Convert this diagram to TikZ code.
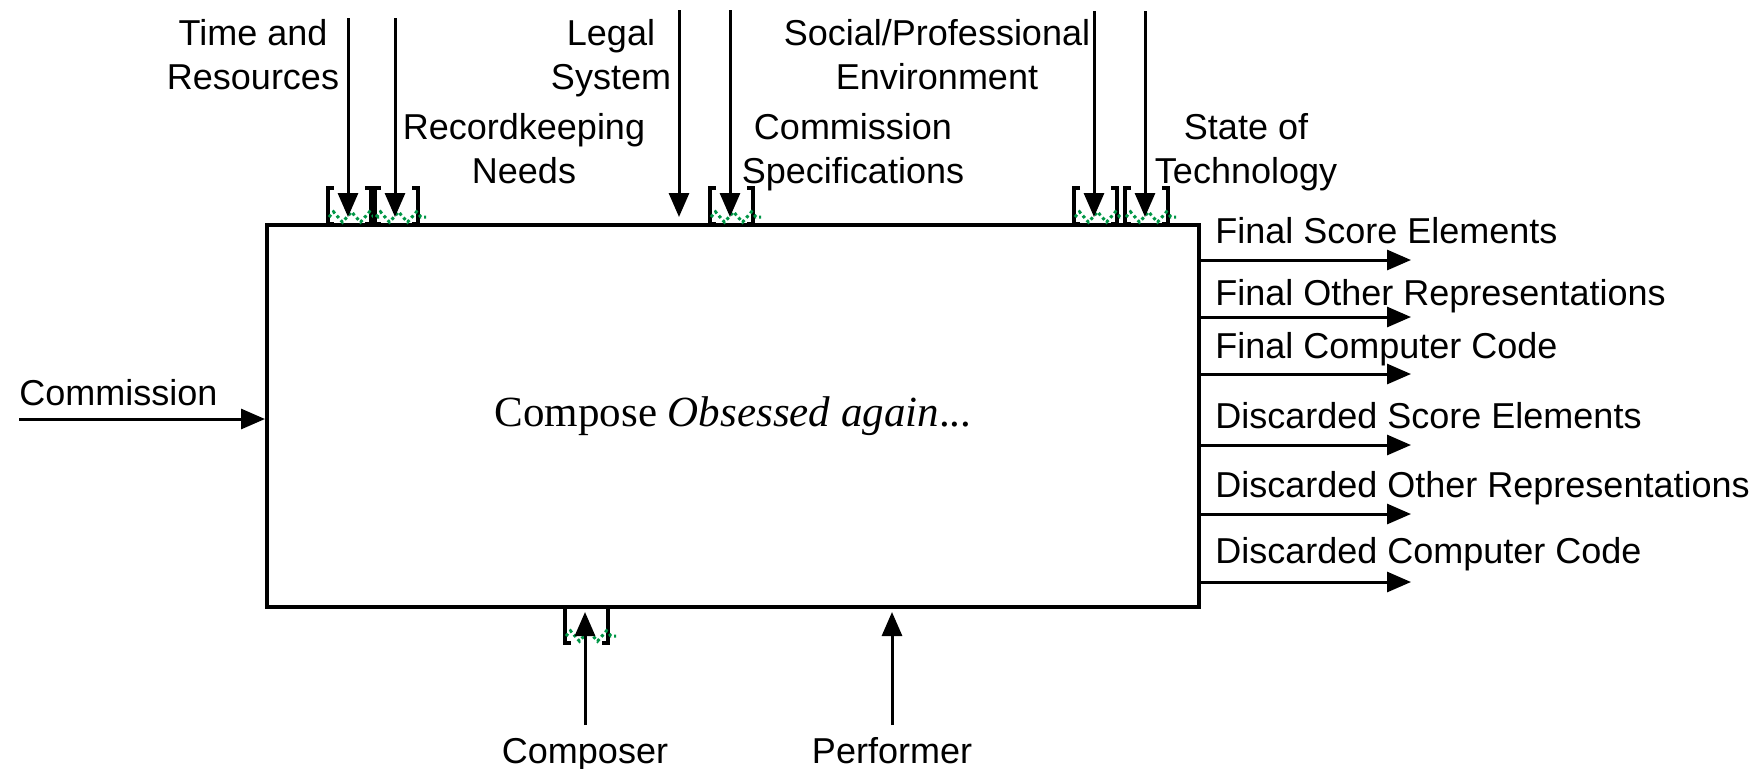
\documentclass[tikz,border=0pt]{standalone}
\usepackage{fontspec}
\setmainfont{Liberation Serif}
\setsansfont{Liberation Sans}
\usepackage{tikz}
\usetikzlibrary{arrows.meta,decorations.pathmorphing}

\definecolor{tunnelgreen}{RGB}{0,150,70}

\tikzset{
  flow/.style={line width=1.5pt,-{Triangle[length=12pt,width=10pt]}},
  lbl/.style={font=\sffamily\fontsize{18}{22}\selectfont,inner sep=0pt,align=center},
  tunnel/.pic={
    \draw[line width=2pt] (-14,0) -- (-20,0) -- (-20,36) -- (-14,36);
    \draw[line width=2pt] (17,0) -- (23,0) -- (23,36) -- (17,36);
    \draw[tunnelgreen,line width=1.5pt,dash pattern=on 1.5pt off 1.5pt,
          decorate,decoration={zigzag,segment length=9pt,amplitude=2.6pt}] (-19,29) -- (31,29);
  }
}

\begin{document}
\begin{tikzpicture}[x=0.5pt,y=-0.5pt]
            \useasboundingbox (0,0) rectangle (1761,768);

            \node[draw,line width=2pt,minimum width=466pt,minimum height=191pt,inner sep=0pt,
                  font=\fontsize{21.5}{26}\selectfont] (compose) at (733,416) {Compose \textit{Obsessed again}...};

            % controls and their tunnels
            \coordinate (timesrc) at (348,18);
            \coordinate (recsrc) at (395,18);
            \coordinate (legalsrc) at (679,10);
            \coordinate (specsrc) at (730,10);
            \coordinate (socialsrc) at (1094,11);
            \coordinate (techsrc) at (1145,11);

            \pic at (348,188) {tunnel};
            \pic at (395,188) {tunnel};
            \pic at (730,188) {tunnel};
            \pic at (1094,188) {tunnel};
            \pic at (1145,188) {tunnel};
            \pic at (585,607) {tunnel};

            \draw[flow,shorten >=3pt] (timesrc) -- (timesrc |- compose.north);
            \draw[flow,shorten >=3pt] (recsrc) -- (recsrc |- compose.north);
            \draw[flow,shorten >=3pt] (legalsrc) -- (legalsrc |- compose.north);
            \draw[flow,shorten >=3pt] (specsrc) -- (specsrc |- compose.north);
            \draw[flow,shorten >=3pt] (socialsrc) -- (socialsrc |- compose.north);
            \draw[flow,shorten >=3pt] (techsrc) -- (techsrc |- compose.north);

            \node[lbl,anchor=base] (timelbl) at (253,89) {Time and\\Resources};
            \node[lbl,anchor=base] (reclbl) at (524,183) {Recordkeeping\\Needs};
            \node[lbl,anchor=base] (legallbl) at (611,89) {Legal\\System};
            \node[lbl,anchor=base] (speclbl) at (853,183) {Commission\\Specifications};
            \node[lbl,anchor=base] (sociallbl) at (937,89) {Social/Professional\\Environment};
            \node[lbl,anchor=base] (techlbl) at (1246,183) {State of\\Technology};

            % input
            \coordinate (commsrc) at (19,419);
            \draw[flow] (commsrc) -- (commsrc -| compose.west);
            \node[lbl,anchor=base west] (commlbl) at (19,405) {Commission};

            % mechanisms
            \coordinate (composersrc) at (585,725);
            \coordinate (performersrc) at (892,725);
            \draw[flow,shorten >=1.5pt] (composersrc) -- (composersrc |- compose.south);
            \draw[flow,shorten >=1.5pt] (performersrc) -- (performersrc |- compose.south);
            \node[lbl,anchor=base] (composerlbl) at (585,763) {Composer};
            \node[lbl,anchor=base] (performerlbl) at (892,763) {Performer};

            % outputs
            \coordinate (fsetip) at (1411,260);
            \coordinate (forttip) at (1411,317);
            \coordinate (fcctip) at (1411,374);
            \coordinate (dsetip) at (1411,445);
            \coordinate (dortip) at (1411,514);
            \coordinate (dcctip) at (1411,582);

            \draw[flow] (fsetip -| compose.east) -- (fsetip);
            \draw[flow] (forttip -| compose.east) -- (forttip);
            \draw[flow] (fcctip -| compose.east) -- (fcctip);
            \draw[flow] (dsetip -| compose.east) -- (dsetip);
            \draw[flow] (dortip -| compose.east) -- (dortip);
            \draw[flow] (dcctip -| compose.east) -- (dcctip);

            \node[lbl,anchor=base west] (fselbl) at (1215,243) {Final Score Elements};
            \node[lbl,anchor=base west] (fortlbl) at (1215,305) {Final Other Representations};
            \node[lbl,anchor=base west] (fcclbl) at (1215,358) {Final Computer Code};
            \node[lbl,anchor=base west] (dselbl) at (1215,428) {Discarded Score Elements};
            \node[lbl,anchor=base west] (dorlbl) at (1215,497) {Discarded Other Representations};
            \node[lbl,anchor=base west] (dcclbl) at (1215,563) {Discarded Computer Code};
        \end{tikzpicture}
\end{document}
